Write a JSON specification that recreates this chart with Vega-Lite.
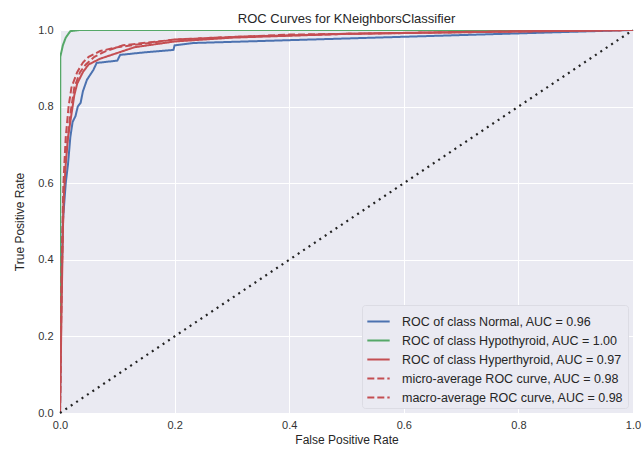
{
  "$schema": "https://vega.github.io/schema/vega-lite/v6.json",
  "width": 573,
  "height": 383,
  "autosize": {"type": "none"},
  "padding": {"left": 60, "top": 30, "right": 9, "bottom": 44},
  "title": {"text": "ROC Curves for KNeighborsClassifier", "fontSize": 13, "fontWeight": "normal", "color": "#262626", "font": "Liberation Sans", "offset": -2},
  "config": {
    "view": {"stroke": null, "fill": "#EAEAF2"},
    "font": "Liberation Sans",
    "axis": {"domain": false, "ticks": false, "labelFlush": false, "gridColor": "#FFFFFF", "gridWidth": 1, "labelColor": "#333333", "labelFontSize": 11, "titleColor": "#262626", "titleFontSize": 12, "titleFontWeight": "normal", "labelFont": "Liberation Sans", "titleFont": "Liberation Sans"}
  },
  "layer": [
    {
      "data": {"values": [
        {"series": "ROC of class Normal, AUC = 0.96", "i": 0, "fpr": 0, "tpr": 0},
        {"series": "ROC of class Normal, AUC = 0.96", "i": 1, "fpr": 0.002, "tpr": 0.3},
        {"series": "ROC of class Normal, AUC = 0.96", "i": 2, "fpr": 0.005, "tpr": 0.5},
        {"series": "ROC of class Normal, AUC = 0.96", "i": 3, "fpr": 0.01, "tpr": 0.6},
        {"series": "ROC of class Normal, AUC = 0.96", "i": 4, "fpr": 0.014, "tpr": 0.65},
        {"series": "ROC of class Normal, AUC = 0.96", "i": 5, "fpr": 0.018, "tpr": 0.72},
        {"series": "ROC of class Normal, AUC = 0.96", "i": 6, "fpr": 0.022, "tpr": 0.76},
        {"series": "ROC of class Normal, AUC = 0.96", "i": 7, "fpr": 0.027, "tpr": 0.775},
        {"series": "ROC of class Normal, AUC = 0.96", "i": 8, "fpr": 0.031, "tpr": 0.8},
        {"series": "ROC of class Normal, AUC = 0.96", "i": 9, "fpr": 0.036, "tpr": 0.81},
        {"series": "ROC of class Normal, AUC = 0.96", "i": 10, "fpr": 0.04, "tpr": 0.84},
        {"series": "ROC of class Normal, AUC = 0.96", "i": 11, "fpr": 0.047, "tpr": 0.87},
        {"series": "ROC of class Normal, AUC = 0.96", "i": 12, "fpr": 0.058, "tpr": 0.895},
        {"series": "ROC of class Normal, AUC = 0.96", "i": 13, "fpr": 0.064, "tpr": 0.914},
        {"series": "ROC of class Normal, AUC = 0.96", "i": 14, "fpr": 0.1, "tpr": 0.92},
        {"series": "ROC of class Normal, AUC = 0.96", "i": 15, "fpr": 0.105, "tpr": 0.935},
        {"series": "ROC of class Normal, AUC = 0.96", "i": 16, "fpr": 0.15, "tpr": 0.942},
        {"series": "ROC of class Normal, AUC = 0.96", "i": 17, "fpr": 0.198, "tpr": 0.948},
        {"series": "ROC of class Normal, AUC = 0.96", "i": 18, "fpr": 0.2, "tpr": 0.96},
        {"series": "ROC of class Normal, AUC = 0.96", "i": 19, "fpr": 0.232, "tpr": 0.966},
        {"series": "ROC of class Normal, AUC = 0.96", "i": 20, "fpr": 1, "tpr": 1},
        {"series": "ROC of class Hypothyroid, AUC = 1.00", "i": 0, "fpr": 0, "tpr": 0},
        {"series": "ROC of class Hypothyroid, AUC = 1.00", "i": 1, "fpr": 0.0005, "tpr": 0.93},
        {"series": "ROC of class Hypothyroid, AUC = 1.00", "i": 2, "fpr": 0.005, "tpr": 0.96},
        {"series": "ROC of class Hypothyroid, AUC = 1.00", "i": 3, "fpr": 0.01, "tpr": 0.98},
        {"series": "ROC of class Hypothyroid, AUC = 1.00", "i": 4, "fpr": 0.018, "tpr": 0.997},
        {"series": "ROC of class Hypothyroid, AUC = 1.00", "i": 5, "fpr": 0.035, "tpr": 1},
        {"series": "ROC of class Hypothyroid, AUC = 1.00", "i": 6, "fpr": 1, "tpr": 1},
        {"series": "ROC of class Hyperthyroid, AUC = 0.97", "i": 0, "fpr": 0, "tpr": 0},
        {"series": "ROC of class Hyperthyroid, AUC = 0.97", "i": 1, "fpr": 0.003, "tpr": 0.3},
        {"series": "ROC of class Hyperthyroid, AUC = 0.97", "i": 2, "fpr": 0.006, "tpr": 0.55},
        {"series": "ROC of class Hyperthyroid, AUC = 0.97", "i": 3, "fpr": 0.01, "tpr": 0.65},
        {"series": "ROC of class Hyperthyroid, AUC = 0.97", "i": 4, "fpr": 0.014, "tpr": 0.72},
        {"series": "ROC of class Hyperthyroid, AUC = 0.97", "i": 5, "fpr": 0.02, "tpr": 0.78},
        {"series": "ROC of class Hyperthyroid, AUC = 0.97", "i": 6, "fpr": 0.025, "tpr": 0.83},
        {"series": "ROC of class Hyperthyroid, AUC = 0.97", "i": 7, "fpr": 0.03, "tpr": 0.86},
        {"series": "ROC of class Hyperthyroid, AUC = 0.97", "i": 8, "fpr": 0.04, "tpr": 0.89},
        {"series": "ROC of class Hyperthyroid, AUC = 0.97", "i": 9, "fpr": 0.05, "tpr": 0.91},
        {"series": "ROC of class Hyperthyroid, AUC = 0.97", "i": 10, "fpr": 0.07, "tpr": 0.925},
        {"series": "ROC of class Hyperthyroid, AUC = 0.97", "i": 11, "fpr": 0.1, "tpr": 0.94},
        {"series": "ROC of class Hyperthyroid, AUC = 0.97", "i": 12, "fpr": 0.13, "tpr": 0.955},
        {"series": "ROC of class Hyperthyroid, AUC = 0.97", "i": 13, "fpr": 0.2, "tpr": 0.97},
        {"series": "ROC of class Hyperthyroid, AUC = 0.97", "i": 14, "fpr": 0.3, "tpr": 0.98},
        {"series": "ROC of class Hyperthyroid, AUC = 0.97", "i": 15, "fpr": 0.5, "tpr": 0.99},
        {"series": "ROC of class Hyperthyroid, AUC = 0.97", "i": 16, "fpr": 0.7, "tpr": 0.995},
        {"series": "ROC of class Hyperthyroid, AUC = 0.97", "i": 17, "fpr": 1, "tpr": 1},
        {"series": "micro-average ROC curve, AUC = 0.98", "i": 0, "fpr": 0, "tpr": 0},
        {"series": "micro-average ROC curve, AUC = 0.98", "i": 1, "fpr": 0.003, "tpr": 0.4},
        {"series": "micro-average ROC curve, AUC = 0.98", "i": 2, "fpr": 0.006, "tpr": 0.6},
        {"series": "micro-average ROC curve, AUC = 0.98", "i": 3, "fpr": 0.01, "tpr": 0.72},
        {"series": "micro-average ROC curve, AUC = 0.98", "i": 4, "fpr": 0.015, "tpr": 0.8},
        {"series": "micro-average ROC curve, AUC = 0.98", "i": 5, "fpr": 0.02, "tpr": 0.85},
        {"series": "micro-average ROC curve, AUC = 0.98", "i": 6, "fpr": 0.03, "tpr": 0.89},
        {"series": "micro-average ROC curve, AUC = 0.98", "i": 7, "fpr": 0.04, "tpr": 0.915},
        {"series": "micro-average ROC curve, AUC = 0.98", "i": 8, "fpr": 0.05, "tpr": 0.93},
        {"series": "micro-average ROC curve, AUC = 0.98", "i": 9, "fpr": 0.07, "tpr": 0.945},
        {"series": "micro-average ROC curve, AUC = 0.98", "i": 10, "fpr": 0.1, "tpr": 0.955},
        {"series": "micro-average ROC curve, AUC = 0.98", "i": 11, "fpr": 0.15, "tpr": 0.965},
        {"series": "micro-average ROC curve, AUC = 0.98", "i": 12, "fpr": 0.2, "tpr": 0.975},
        {"series": "micro-average ROC curve, AUC = 0.98", "i": 13, "fpr": 0.3, "tpr": 0.982},
        {"series": "micro-average ROC curve, AUC = 0.98", "i": 14, "fpr": 0.5, "tpr": 0.99},
        {"series": "micro-average ROC curve, AUC = 0.98", "i": 15, "fpr": 1, "tpr": 1},
        {"series": "macro-average ROC curve, AUC = 0.98", "i": 0, "fpr": 0, "tpr": 0},
        {"series": "macro-average ROC curve, AUC = 0.98", "i": 1, "fpr": 0.003, "tpr": 0.35},
        {"series": "macro-average ROC curve, AUC = 0.98", "i": 2, "fpr": 0.007, "tpr": 0.6},
        {"series": "macro-average ROC curve, AUC = 0.98", "i": 3, "fpr": 0.012, "tpr": 0.7},
        {"series": "macro-average ROC curve, AUC = 0.98", "i": 4, "fpr": 0.018, "tpr": 0.78},
        {"series": "macro-average ROC curve, AUC = 0.98", "i": 5, "fpr": 0.025, "tpr": 0.85},
        {"series": "macro-average ROC curve, AUC = 0.98", "i": 6, "fpr": 0.035, "tpr": 0.89},
        {"series": "macro-average ROC curve, AUC = 0.98", "i": 7, "fpr": 0.045, "tpr": 0.91},
        {"series": "macro-average ROC curve, AUC = 0.98", "i": 8, "fpr": 0.06, "tpr": 0.93},
        {"series": "macro-average ROC curve, AUC = 0.98", "i": 9, "fpr": 0.08, "tpr": 0.945},
        {"series": "macro-average ROC curve, AUC = 0.98", "i": 10, "fpr": 0.11, "tpr": 0.96},
        {"series": "macro-average ROC curve, AUC = 0.98", "i": 11, "fpr": 0.2, "tpr": 0.975},
        {"series": "macro-average ROC curve, AUC = 0.98", "i": 12, "fpr": 0.4, "tpr": 0.988},
        {"series": "macro-average ROC curve, AUC = 0.98", "i": 13, "fpr": 1, "tpr": 1}
      ]},
      "mark": {"type": "line", "strokeWidth": 2, "clip": true},
      "encoding": {
        "x": {"field": "fpr", "type": "quantitative", "scale": {"domain": [0, 1], "nice": false, "zero": false}, "axis": {"title": "False Positive Rate", "format": ".1f", "values": [0, 0.2, 0.4, 0.6, 0.8, 1], "labelPadding": 6, "titlePadding": 4}},
        "y": {"field": "tpr", "type": "quantitative", "scale": {"domain": [0, 1], "nice": false}, "axis": {"title": "True Positive Rate", "format": ".1f", "values": [0, 0.2, 0.4, 0.6, 0.8, 1], "labelPadding": 7, "titlePadding": 11}},
        "order": {"field": "i", "type": "quantitative"},
        "color": {"field": "series", "type": "nominal", "scale": {"domain": ["ROC of class Normal, AUC = 0.96", "ROC of class Hypothyroid, AUC = 1.00", "ROC of class Hyperthyroid, AUC = 0.97", "micro-average ROC curve, AUC = 0.98", "macro-average ROC curve, AUC = 0.98"], "range": ["#4C72B0", "#55A868", "#C44E52", "#C44E52", "#C44E52"]},
          "legend": {"title": null, "orient": "bottom-right", "offset": 5, "symbolType": "stroke", "symbolSize": 500, "symbolStrokeWidth": 2, "labelFontSize": 12.5, "labelColor": "#262626", "labelLimit": 400, "labelOffset": 11, "rowPadding": -4, "fillColor": "#EAEAF2", "strokeColor": "#DCDCE4", "padding": 4, "cornerRadius": 3}},
        "strokeDash": {"field": "series", "type": "nominal", "scale": {"domain": ["ROC of class Normal, AUC = 0.96", "ROC of class Hypothyroid, AUC = 1.00", "ROC of class Hyperthyroid, AUC = 0.97", "micro-average ROC curve, AUC = 0.98", "macro-average ROC curve, AUC = 0.98"], "range": [[1, 0], [1, 0], [1, 0], [7, 3], [7, 3]]},
          "legend": {"title": null}}
      }
    },
    {
      "data": {"values": [{"fpr": 0, "tpr": 0}, {"fpr": 1, "tpr": 1}]},
      "mark": {"type": "line", "color": "#222222", "strokeWidth": 2.2, "strokeDash": [2, 4.5]},
      "encoding": {
        "x": {"field": "fpr", "type": "quantitative"},
        "y": {"field": "tpr", "type": "quantitative"}
      }
    }
  ]
}
